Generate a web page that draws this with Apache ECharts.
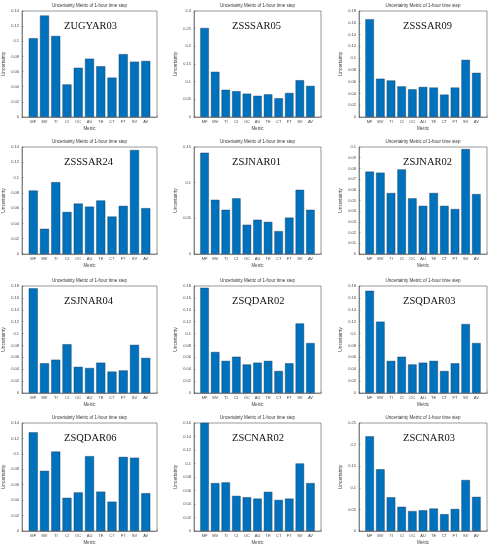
<!DOCTYPE html>
<html>
<head>
<meta charset="utf-8">
<script src="https://cdn.jsdelivr.net/npm/echarts@6/dist/echarts.min.js"></script>
<style>html,body{margin:0;padding:0;background:#fff;}#c{width:500px;height:550px;}</style>
</head>
<body>
<div id="c"></div>
<script>
var categories = ['MF','MV','TI','CI','OC','AU','TE','CT','FT','SV','AV'];
var chartTitle = 'Uncertainty Metric of 1-hour time step';
var xName = 'Metric';
var yName = 'Uncertainty';
var stations = ['ZUGYAR03','ZSSSAR05','ZSSSAR09','ZSSSAR24','ZSJNAR01','ZSJNAR02','ZSJNAR04','ZSQDAR02','ZSQDAR03','ZSQDAR06','ZSCNAR02','ZSCNAR03'];
var ZUGYAR03 = [0.104,0.134,0.107,0.043,0.065,0.077,0.067,0.052,0.083,0.073,0.074];
var ZSSSAR05 = [0.252,0.128,0.077,0.073,0.066,0.060,0.064,0.053,0.068,0.104,0.088];
var ZSSSAR09 = [0.166,0.065,0.062,0.052,0.047,0.051,0.050,0.038,0.050,0.097,0.075];
var ZSSSAR24 = [0.083,0.033,0.094,0.055,0.066,0.062,0.070,0.049,0.063,0.136,0.060];
var ZSJNAR01 = [0.142,0.076,0.062,0.078,0.041,0.048,0.045,0.032,0.051,0.090,0.062];
var ZSJNAR02 = [0.077,0.076,0.057,0.079,0.052,0.045,0.057,0.045,0.042,0.098,0.056];
var ZSJNAR04 = [0.176,0.050,0.056,0.082,0.044,0.042,0.051,0.036,0.038,0.081,0.059];
var ZSQDAR02 = [0.177,0.069,0.054,0.061,0.048,0.051,0.054,0.037,0.050,0.117,0.084];
var ZSQDAR03 = [0.172,0.120,0.054,0.061,0.048,0.051,0.054,0.037,0.050,0.116,0.084];
var ZSQDAR06 = [0.128,0.078,0.103,0.043,0.050,0.097,0.051,0.038,0.096,0.095,0.049];
var ZSCNAR02 = [0.165,0.071,0.072,0.052,0.050,0.048,0.058,0.046,0.048,0.100,0.071];
var ZSCNAR03 = [0.219,0.143,0.078,0.056,0.046,0.048,0.052,0.039,0.051,0.118,0.079];
var yMax = [0.14,0.3,0.18,0.14,0.15,0.1,0.18,0.18,0.18,0.14,0.16,0.25];
var yStep = [0.02,0.05,0.02,0.02,0.05,0.01,0.02,0.02,0.02,0.02,0.02,0.05];

var seriesValues = [ZUGYAR03,ZSSSAR05,ZSSSAR09,ZSSSAR24,ZSJNAR01,ZSJNAR02,ZSJNAR04,ZSQDAR02,ZSQDAR03,ZSQDAR06,ZSCNAR02,ZSCNAR03];

var colLeft = [22,194,359], colWidth = [135,127,128];
var rowTop = [11,147,286,423], rowHeight = [106,107,107,108];
var labelOffset = [42,38,44];
var lineColor = '#555', textColor = '#444';

var grids = [], xAxes = [], yAxes = [], series = [], graphics = [];
for (var i = 0; i < 12; i++) {
  var r = Math.floor(i / 3), c = i % 3;
  var L = colLeft[c], T = rowTop[r], W = colWidth[c], H = rowHeight[r];
  grids.push({left: L, top: T, width: W, height: H, show: true, borderColor: lineColor, borderWidth: 0.6, backgroundColor: '#fff'});
  xAxes.push({
    type: 'value', gridIndex: i, min: 0, max: 12, interval: 1,
    name: xName, nameLocation: 'middle', nameGap: 9,
    nameTextStyle: {fontSize: 4.5, color: textColor, fontFamily: 'Liberation Sans'},
    axisLine: {lineStyle: {color: lineColor, width: 0.6}},
    axisTick: {inside: true, length: 1.5, lineStyle: {color: lineColor, width: 0.5}},
    axisLabel: {fontSize: 4, color: textColor, margin: 3, fontFamily: 'Liberation Sans',
      formatter: function (v) { return categories[v - 1] || ''; }},
    splitLine: {show: false}
  });
  yAxes.push({
    type: 'value', gridIndex: i, min: 0, max: yMax[i], interval: yStep[i],
    name: yName, nameLocation: 'middle', nameGap: 16,
    nameTextStyle: {fontSize: 4.8, color: textColor, fontFamily: 'Liberation Sans'},
    axisLine: {show: true, lineStyle: {color: lineColor, width: 0.6}},
    axisTick: {show: true, inside: true, length: 1.5, lineStyle: {color: lineColor, width: 0.5}},
    axisLabel: {fontSize: 4, color: textColor, margin: 3, fontFamily: 'Liberation Sans'},
    splitLine: {show: false}
  });
  series.push({
    type: 'bar', xAxisIndex: i, yAxisIndex: i, barWidth: '80%',
    data: seriesValues[i].map(function (v, k) { return [k + 1, v]; }),
    itemStyle: {color: '#0072BD', borderColor: '#1a3550', borderWidth: 0.4},
    clip: true, silent: true, animation: false
  });
  graphics.push({
    type: 'text', x: L + W / 2, y: T - 5,
    style: {text: chartTitle, fontSize: 4.5, fill: '#333', align: 'center', verticalAlign: 'middle', fontFamily: 'Liberation Sans'}
  });
  graphics.push({
    type: 'text', x: L + labelOffset[c], y: T + 15,
    style: {text: stations[i], fontSize: 10.5, fill: '#111', align: 'left', verticalAlign: 'middle', fontFamily: 'Liberation Serif'}
  });
}

var chart = echarts.init(document.getElementById('c'), null, {renderer: 'canvas'});
chart.setOption({
  backgroundColor: '#fff',
  animation: false,
  grid: grids, xAxis: xAxes, yAxis: yAxes, series: series,
  graphic: graphics
});
</script>
</body>
</html>
